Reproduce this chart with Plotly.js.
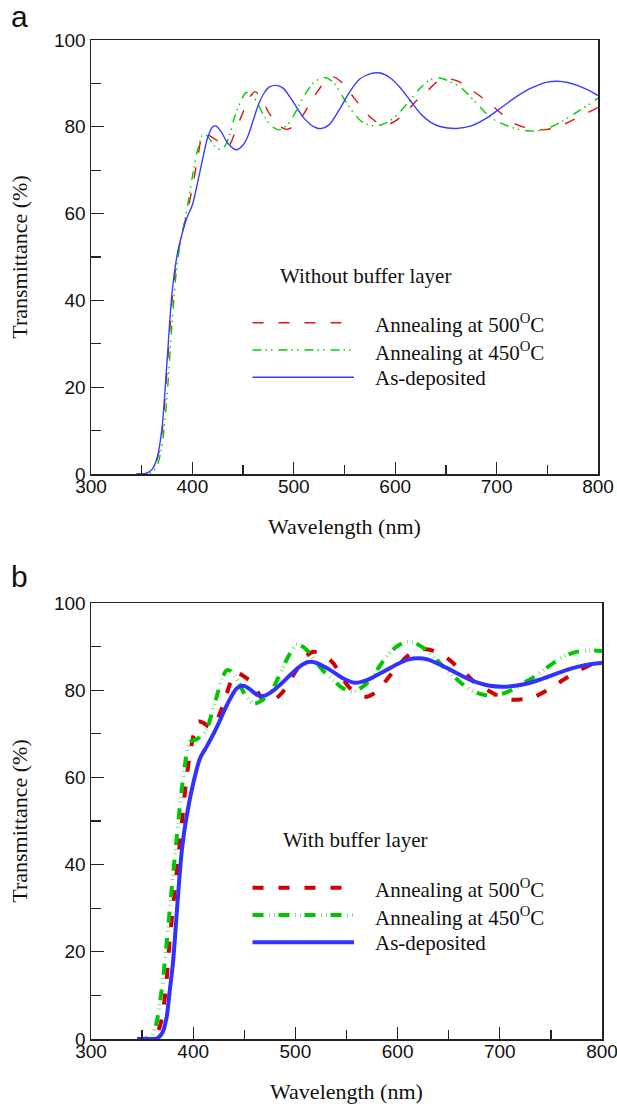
<!DOCTYPE html>
<html>
<head>
<meta charset="utf-8">
<script src="https://cdn.plot.ly/plotly-3.0.1.min.js"></script>
<style>html,body{margin:0;padding:0;background:#fff;}#chart{width:617px;height:1104px;}</style>
</head>
<body>
<div id="chart"></div>
<script>
// ---------- Panel a: without buffer layer ----------
const aBlueWl = [345,350,355,360,365,370,375,380,385,390,395,400,405,410,415,420,423,428,435,443,450,455,460,465,470,476,484,490,500,510,520,527,535,545,555,565,575,585,595,605,615,625,635,645,660,675,690,705,720,735,750,760,770,780,790,800];
const aBlueT  = [0,0,0.2,1,3.5,10.5,26,42,50.5,55.5,59.3,62,67,72.5,77.5,80,80.2,79,76.2,74.7,75.8,78,81.5,85,87.5,89.2,89.5,88.8,85.5,82,80,79.6,80.5,84,88,91,92.2,92.4,91.3,89,86,83,81,80,79.6,80.2,82,84.5,87,89,90.3,90.5,90.2,89.5,88.5,87.2];

const aRedWl = [345,350,355,360,365,370,375,380,385,390,395,400,405,411,418,426,435,444,452,457,462,468,476,485,493,500,509,518,526,533,539,546,555,565,575,588,600,611,620,631,641,651,662,675,690,705,720,735,746,758,772,785,792,800];
const aRedT  = [0,0,0.2,1,3.2,9.5,24,40,50,55.5,60.5,66,72.5,78.6,77.8,76.6,75.4,80,84.5,87,88.1,86.5,83,80.3,79.4,80.2,82.7,86.2,89,91,91.5,90.5,88,85,82.3,80.3,81.3,83.5,85.8,88.1,90.3,91.1,90.5,88.5,86,83,80.5,79.5,79.3,79.8,81.2,82.8,83.5,84.5];

const aGreenWl = [345,350,355,360,365,370,375,380,385,390,395,400,405,411,416,422,429,435,441,447,453,459,465,472,479,486,494,502,510,518,525,532,540,548,558,568,581,592,603,614,625,634,643,653,665,678,690,700,710,720,736,750,765,780,790,800];
const aGreenT  = [0,0,0,0.4,1.8,6.5,18,35,48.5,55.5,61.5,68.5,74.5,78.5,77.5,75.5,74.7,77,81.8,85.5,87.9,87.3,85,82,80,79.3,80.5,83.5,87,89.8,91,91.3,90,87,83.5,81,80.2,81,83,86,89,90.8,91.3,90.5,89,86,83,81.3,80.3,79.5,79,79.6,81.3,83.5,85,86.6];

// ---------- Panel b: with buffer layer ----------
const bBlueWl = [345,350,360,365,370,374,377,380,382,385.5,389,393.5,400,406.7,413,421,427,433,442.5,449,455,462,469,476,484,491.5,500,507,514,521,529,537,546,558,570,580,589,600,610,620,630,640,650,658,670,680,690,702,715,728,740,752,765,777,790,800];
const bBlueT  = [0,0,0,0.2,1.5,5,11,17,22.7,34,43.5,51,58.6,64.4,67,70.5,73.5,76.6,80.4,81,80.3,79,78.7,79.5,81,82.7,84.6,85.9,86.5,86.2,85.3,84.2,82.8,81.7,82.3,83.5,84.6,86,87,87.3,87,86,84.9,83.9,82.5,81.6,81,80.8,81,81.6,82.5,83.5,84.6,85.4,86,86.3];

const bRedWl = [345,350,358,362,366,369,373,377,381,385.5,389.5,393.6,397,400,405,410,415,420,425,431,436,441,446,452,459,465,470,477,486.6,494,501,509,517.5,527,537,545,552,561,570,580,589,599,609,618,628,640,651,660,668,678,688,700,712,724,734,745,755,765,775,787,800];
const bRedT  = [0,0,0,0.5,2,4.4,11,22.7,32,41.8,51,60.2,65.5,69.3,72.8,72.5,71.7,71.8,74,77.8,81.5,83.9,83.7,82.8,81.5,78.8,77.4,77.5,79.3,82,84.6,87.5,88.8,88.2,86.2,83.2,80.8,79,78.5,79.8,82.3,85.2,87.7,89,89.4,88.6,86.9,85,83.5,81.2,80,78.5,77.8,78,78.5,79.8,81.3,82.8,84.2,85.6,87];

const bGreenWl = [345,350,355,360,364,369,374,378,382,385.5,388.7,392,395,398,402,408,413,418,423,428,433,438,445,452,460,468,477,483,488,495,501,507,514,521,529,537,546,555,564,573,581,589,599,609,619,628,638,648,658,668,680,693,703,713,723,734,744,754,765,775,787,800];
const bGreenT  = [0,0,0.2,1,3.6,11,21.9,32,41.8,50,57.1,63,67,68.3,68.6,69.5,70.9,74.5,78.5,82.5,84.6,84.2,81.5,78.5,77,77.8,80,82.8,85.4,88.5,90.4,90,88.5,86.2,84,82.3,80.5,79.6,80.5,82.3,85,87.7,90,91.1,90.6,89.2,87,84.6,82.5,80.6,79.2,78.7,79.2,80.2,81.6,83.1,84.8,86.5,88,88.8,89.1,89];

// text
const panelLabels = ['a', 'b'];
const groupTitles = ['Without buffer layer', 'With buffer layer'];
const seriesNames = ['Annealing at 500<sup>O</sup>C', 'Annealing at 450<sup>O</sup>C', 'As-deposited'];
const xTitle = 'Wavelength (nm)';
const yTitle = 'Transmittance (%)';

// ---------- styling / layout ----------
const W = 617, H = 1104;
const M = {l: 91, r: 15, t: 40, b: 65};
const PW = W - M.l - M.r, PH = H - M.t - M.b;
const px2x = p => (p - M.l) / PW;
const py2y = p => (H - M.b - p) / PH;

const RED_A = 'rgb(225,20,20)', GRN_A = 'rgb(0,205,0)', BLU_A = 'rgb(60,60,255)';
const RED_B = 'rgb(210,0,0)', GRN_B = 'rgb(0,200,0)', BLU_B = 'rgb(50,50,255)';
const dashRedA = '11px,15px';
const dashGrnA = '9px,4px,1.5px,4px,1.5px,6px';
const dashRedB = '11px,15px';
const dashGrnB = '11px,6px,0.5px,4px,0.5px,4px';

function tr(x, y, xa, ya, color, width, dash) {
  return {x: x, y: y, xaxis: xa, yaxis: ya, type: 'scatter', mode: 'lines',
    line: {color: color, width: width, dash: dash, shape: 'spline', smoothing: 0.8},
    showlegend: false, hoverinfo: 'skip'};
}

const data = [
  tr(aRedWl, aRedT, 'x', 'y', RED_A, 1.4, dashRedA),
  tr(aGreenWl, aGreenT, 'x', 'y', GRN_A, 1.4, dashGrnA),
  tr(aBlueWl, aBlueT, 'x', 'y', BLU_A, 1.4, 'solid'),
  tr(bRedWl, bRedT, 'x2', 'y2', RED_B, 4, dashRedB),
  tr(bGreenWl, bGreenT, 'x2', 'y2', GRN_B, 4, dashGrnB),
  tr(bBlueWl, bBlueT, 'x2', 'y2', BLU_B, 4, 'solid')
];

const tickFont = {family: 'Liberation Sans, Arial, sans-serif', size: 19, color: '#111'};
const serif = 'Liberation Serif, Times New Roman, serif';
const titleFont = {family: serif, size: 22, color: '#111'};

function xax(domain, anchor) {
  return {domain: domain, anchor: anchor, range: [300, 800], dtick: 100, tick0: 300,
    showline: true, linecolor: '#222', linewidth: 1.5, mirror: true,
    ticks: 'inside', ticklen: 12, tickwidth: 1.3, tickcolor: '#222',
    minor: {dtick: 50, ticks: 'inside', ticklen: 9, tickwidth: 1.3, tickcolor: '#222'},
    showgrid: false, zeroline: false, tickfont: tickFont,
    ticklabeloverflow: 'allow', ticklabelstandoff: -5,
    title: {text: xTitle, font: titleFont, standoff: 22}};
}
function yax(domain, anchor) {
  return {domain: domain, anchor: anchor, range: [0, 100], dtick: 20, tick0: 0,
    showline: true, linecolor: '#222', linewidth: 1.5, mirror: true,
    ticks: 'inside', ticklen: 13, tickwidth: 1.3, tickcolor: '#222',
    minor: {dtick: 10, ticks: 'inside', ticklen: 10, tickwidth: 1.3, tickcolor: '#222'},
    showgrid: false, zeroline: false, tickfont: tickFont,
    title: {text: yTitle, font: titleFont, standoff: 20}};
}

const topY = [py2y(474), py2y(40)];
const botY = [py2y(1039), py2y(603)];

const annotations = [];
const shapes = [];
function ann(text, x, y, opts) {
  annotations.push(Object.assign({text: text, xref: 'paper', yref: 'paper', x: px2x(x), y: py2y(y),
    xanchor: 'left', yanchor: 'middle', showarrow: false,
    font: {family: serif, size: 21, color: '#111'}}, opts || {}));
}
// panel labels
ann(panelLabels[0], 19, 16, {xanchor: 'center', font: {family: 'Liberation Sans, Arial, sans-serif', size: 30, color: '#111'}});
ann(panelLabels[1], 19, 576, {xanchor: 'center', font: {family: 'Liberation Sans, Arial, sans-serif', size: 30, color: '#111'}});

// legends
const legs = [
  {title: groupTitles[0], tx: 278, ty: 276, ys: [322.7, 350, 377.3], cols: [RED_A, GRN_A, BLU_A], dashes: [dashRedA, dashGrnA, 'solid'], w: 1.4},
  {title: groupTitles[1], tx: 280.7, ty: 840, ys: [887.7, 915, 942.3], cols: [RED_B, GRN_B, BLU_B], dashes: [dashRedB, dashGrnB, 'solid'], w: 4}
];
legs.forEach(L => {
  ann(L.title, L.tx, L.ty);
  L.ys.forEach((yy, i) => {
    shapes.push({type: 'line', xref: 'paper', yref: 'paper', x0: px2x(252.5), x1: px2x(354), y0: py2y(yy), y1: py2y(yy),
      line: {color: L.cols[i], width: L.w, dash: L.dashes[i]}});
    ann(seriesNames[i], 372.7, yy + 1);
  });
});

const layout = {
  width: W, height: H, margin: M, paper_bgcolor: '#fff', plot_bgcolor: '#fff',
  showlegend: false,
  xaxis: xax([0, 507 / PW], 'y'),
  yaxis: yax(topY, 'x'),
  xaxis2: xax([0, 1], 'y2'),
  yaxis2: yax(botY, 'x2'),
  annotations: annotations, shapes: shapes
};

Plotly.newPlot('chart', data, layout, {staticPlot: true, displayModeBar: false});
</script>
</body>
</html>
